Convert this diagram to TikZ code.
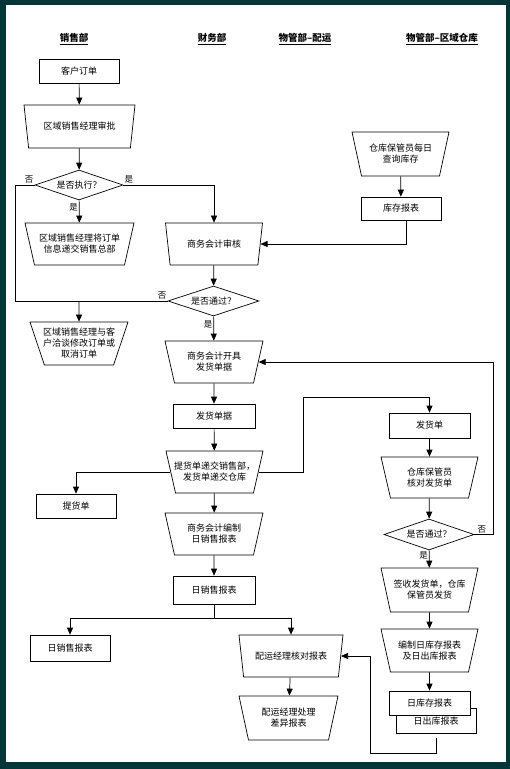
\documentclass[tikz,border=0pt]{standalone}
\usepackage{fontspec}
\setmainfont{Noto Sans CJK SC}
\usepackage{tikz}
\usetikzlibrary{arrows.meta,shapes.geometric}
\usepackage{xcolor}
\definecolor{frame}{HTML}{033636}

\tikzset{
  txt/.style={font=\fontsize{9}{11}\selectfont, align=center},
  box/.style={txt, draw, fill=white, minimum width=80pt, minimum height=24pt, inner sep=1pt},
  manual/.style={txt, draw, fill=white, trapezium, shape border rotate=180,
    trapezium stretches body, trapezium left angle=66, trapezium right angle=66,
    minimum width=98pt, minimum height=42pt, inner xsep=-16pt, inner ysep=1pt},
  decide/.style={txt, draw, fill=white, diamond, aspect=3, minimum width=89pt, minimum height=30pt, inner sep=0pt},
  lane/.style={font=\fontsize{9.5}{11}\bfseries},
  tag/.style={font=\fontsize{8.5}{10}\selectfont, inner sep=1pt}
}

\begin{document}
\begin{tikzpicture}[x=1pt,y=-1pt,>={Triangle[length=7pt,width=6pt]},line width=0.7pt]
%%%FRAME
\fill[frame] (0,0) rectangle (510,769);
\fill[white] (6,5) rectangle (506,762);
%%%LANES
\node[lane] (hs) at (74,39) {\underline{销售部}};
\node[lane] (hf) at (212,39) {\underline{财务部}};
\node[lane] (hp) at (305,39) {\underline{物管部–配运}};
\node[lane] (hw) at (442,39) {\underline{物管部–区域仓库}};
%%%SALES
\node[box] (order) at (79,71.5) {客户订单};
\node[manual, minimum width=111pt, minimum height=43pt] (approve) at (79.5,126.5) {区域销售经理审批};
\node[decide, minimum width=88pt] (exec) at (79,185) {是否执行？};
\node[manual, minimum width=109pt] (submit) at (79.5,244) {区域销售经理将订单\\信息递交销售总部};
\node[manual, minimum height=43pt] (revise) at (79,343.5) {区域销售经理与客\\户洽谈修改订单或\\取消订单};
\node[box] (pickup) at (76,506) {提货单};
\node[box, minimum height=26pt] (salesrep) at (70,648) {日销售报表};
%%%FINANCE
\node[manual, minimum width=97pt] (audit) at (214,244) {商务会计审核};
\node[decide, minimum width=91pt] (pass) at (213.5,301) {是否通过？};
\node[manual] (issue) at (214,362) {商务会计开具\\发货单据};
\node[box, minimum width=82pt] (bills) at (214,416) {发货单据};
\node[manual, minimum width=97pt] (hand) at (214.5,472) {提货单递交销售部，\\发货单递交仓库};
\node[manual] (compile) at (214,534) {商务会计编制\\日销售报表};
\node[box, minimum width=82pt, minimum height=28pt] (daily) at (214,590) {日销售报表};
%%%DISTRIBUTION
\node[manual, minimum width=104pt] (check) at (291,656) {配运经理核对报表};
\node[manual, minimum width=99pt, minimum height=44pt] (diff) at (288.5,718) {配运经理处理\\差异报表};
%%%WAREHOUSE
\node[manual, minimum width=97pt, minimum height=44pt] (query) at (400.5,154) {仓库保管员每日\\查询库存};
\node[box, minimum height=23pt] (stock) at (401,208.5) {库存报表};
\node[box, minimum width=81pt, minimum height=25pt] (note) at (429.5,425.5) {发货单};
\node[manual, minimum width=97pt, minimum height=41pt] (verify) at (429.5,477.5) {仓库保管员\\核对发货单};
\node[decide, minimum width=90pt, minimum height=31pt] (pass2) at (429,534.5) {是否通过？};
\node[manual, minimum width=97pt, minimum height=44pt] (ship) at (429.5,590) {签收发货单，仓库\\保管员发货};
\node[manual, minimum width=97pt, minimum height=43pt] (report) at (429.5,650.5) {编制日库存报表\\及日出库报表};
\node[box, minimum height=25pt, text depth=-4pt] (outrep) at (436,720.5) {日出库报表};
\node[box, minimum width=81pt] (stockrep) at (429.5,703) {日库存报表};
%%%TURNS
\coordinate (loopL) at (15,301);
\coordinate (turn) at (303,397);
\coordinate (fork) at (214,618);
\coordinate (loopR) at (493,534.5);
\coordinate (loopB) at (370,753);
%%%FLOWS
\draw[->] (order) -- (approve);
\draw[->] (approve) -- (exec);
\draw[->] (exec) -- node[tag, left, pos=0.3] {是} (submit);
\draw[->] (exec.east) -| node[tag, above right, pos=0] {是} (audit.north);
\draw (exec.west) -| node[tag, above left, pos=0] {否} (loopL) -- (pass.west);
\draw (pass.west) node[tag, above left] {否};
\draw[->] (revise.north |- loopL) -- (revise);
\draw[->] (audit) -- (pass);
\draw[->] ([xshift=5pt]stock.south) |- (audit.east);
\draw[->] (pass) -- node[tag, left, pos=0.35] {是} (issue);
\draw[->] (issue) -- (bills);
\draw[->] (bills) -- (hand);
\draw[->] (hand) -- (compile);
\draw[->] (compile) -- (daily);
\draw[->] (hand.west) -| (pickup.north);
\draw[->] (hand.east) -| (turn) -| (note.north);
\draw (daily) -- (fork);
\draw[->] (fork) -| (salesrep.north);
\draw[->] (fork) -| (check.north);
\draw[->] (check) -- (diff);
\draw[->] (query) -- (stock);
\draw[->] (note) -- (verify);
\draw[->] (verify) -- (pass2);
\draw[->] (pass2) -- node[tag, left, pos=0.3] {是} (ship);
\draw[->] (pass2.east) -- node[tag, above right, pos=0.1] {否} (loopR) |- (issue.east);
\draw[->] (ship) -- (report);
\draw[->] (report) -- (stockrep);
\draw[->] ([yshift=-5pt]outrep.south) |- (loopB) |- (check.east);
\end{tikzpicture}
\end{document}
